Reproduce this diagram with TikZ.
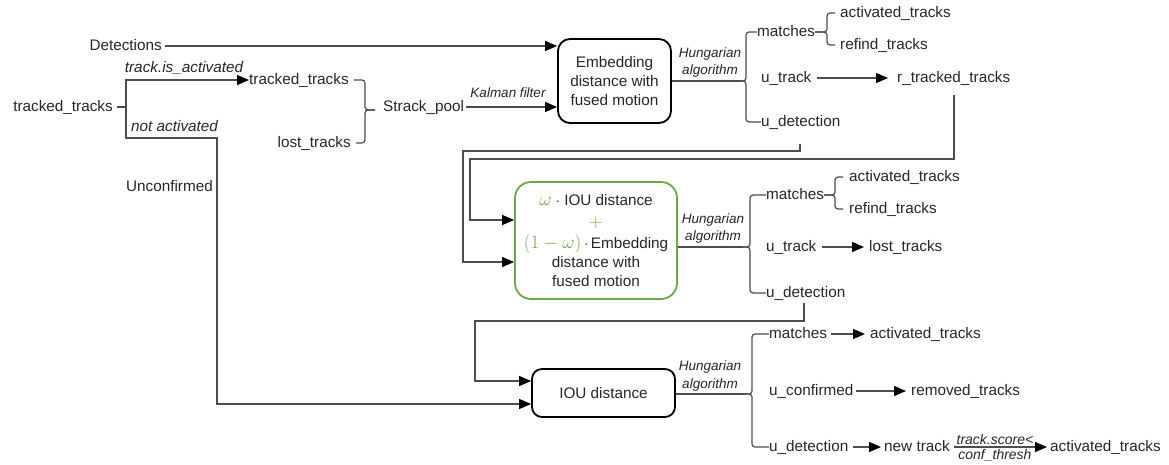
\RequirePackage{fix-cm}
\documentclass[tikz,border=0pt]{standalone}
\usepackage{fontspec}
\setmainfont{Liberation Sans}
\usetikzlibrary{arrows.meta,calc}
\definecolor{txt}{HTML}{262626}
\definecolor{ln}{HTML}{4D4D4D}
\definecolor{grn}{HTML}{6AAA44}
\begin{document}
\begin{tikzpicture}[x=1pt,y=-1pt,
  lbl/.style={inner sep=0pt, text=txt, font=\fontsize{15.3}{18}\selectfont, text height=11pt, text depth=3pt},
  ital/.style={lbl, font=\fontsize{15.3}{18}\selectfont\itshape},
  hung/.style={inner sep=0pt, text=txt, font=\fontsize{13.5}{17.5}\selectfont\itshape, align=center},
  frac/.style={inner sep=0pt, text=txt, font=\fontsize{14}{16}\selectfont\itshape},
  conn/.style={draw=ln, line width=1.2pt},
  arr/.style={conn, -{Triangle[length=12pt,width=10pt,color=black]}},
  brc/.style={draw=ln, line width=1.2pt, rounded corners=3pt},
  procbox/.style={draw=black, line width=1.8pt, rounded corners=12pt, text=txt,
    font=\fontsize{15.3}{19}\selectfont, align=center, inner sep=0pt},
  greenbox/.style={procbox, draw=grn, rounded corners=16pt},
]
\useasboundingbox (0,0) rectangle (1169,464);

% ---------- input side ----------
\node[lbl, anchor=east] (det) at (162,46) {Detections};
\node[lbl, anchor=east] (tt0) at (113,107) {tracked\_tracks};
\node[lbl, anchor=west] (tt1) at (249,80) {tracked\_tracks};
\node[lbl, anchor=east] (lost0) at (351,143) {lost\_tracks};
\node[lbl, anchor=west] (pool) at (383,107) {Strack\_pool};
\node[lbl, anchor=east] (unconf) at (213,187) {Unconfirmed};
\node[ital] (isact) at (184,68) {track.is\_activated};
\node[ital, anchor=west] (notact) at (131,127) {not activated};
\node[hung] (kal) at (508,93) {Kalman filter};

% ---------- boxes ----------
\node[procbox, minimum width=113pt, minimum height=84pt] (b1) at (614.5,81)
  {Embedding\\distance with\\fused motion};
\node[greenbox, minimum width=162pt, minimum height=117pt] (b2) at (596,240.5)
  {\textcolor{grn}{\fontsize{19}{19}\selectfont$\omega$} $\cdot$ IOU distance\\[3pt]
   \textcolor{grn}{\fontsize{19}{19}\selectfont$+$}\\[2pt]
   \textcolor{grn}{\fontsize{19}{19}\selectfont$(1-\omega)$}$\,\cdot\,$Embedding\\
   distance with\\fused motion};
\node[procbox, rounded corners=10pt, minimum width=143pt, minimum height=48pt] (b3) at (603.5,393)
  {IOU distance};

\node[hung] (h1) at (710,62.5) {Hungarian\\algorithm};
\node[hung] (h2) at (713,228.5) {Hungarian\\algorithm};
\node[hung] (h3) at (710,376) {Hungarian\\algorithm};

% ---------- stage 1 outputs ----------
\node[lbl, anchor=west] (m1) at (757,32) {matches};
\node[lbl, anchor=west] (act1) at (840,13) {activated\_tracks};
\node[lbl, anchor=west] (ref1) at (840,45) {refind\_tracks};
\node[lbl, anchor=west] (ut1) at (761,78) {u\_track};
\node[lbl, anchor=west] (rtt) at (897,78) {r\_tracked\_tracks};
\node[lbl, anchor=west] (ud1) at (761,122) {u\_detection};

% ---------- stage 2 outputs ----------
\node[lbl, anchor=west] (m2) at (766,195) {matches};
\node[lbl, anchor=west] (act2) at (849,177) {activated\_tracks};
\node[lbl, anchor=west] (ref2) at (849,209) {refind\_tracks};
\node[lbl, anchor=west] (ut2) at (766,247) {u\_track};
\node[lbl, anchor=west] (lost2) at (869,247) {lost\_tracks};
\node[lbl, anchor=west] (ud2) at (766,293) {u\_detection};

% ---------- stage 3 outputs ----------
\node[lbl, anchor=west] (m3) at (769,334) {matches};
\node[lbl, anchor=west] (act3) at (870,334) {activated\_tracks};
\node[lbl, anchor=west] (uc) at (769,391) {u\_confirmed};
\node[lbl, anchor=west] (rem) at (911,391) {removed\_tracks};
\node[lbl, anchor=west] (ud3) at (769,447) {u\_detection};
\node[lbl, anchor=west] (nt) at (884,447) {new track};
\node[lbl, anchor=west] (act4) at (1050,447) {activated\_tracks};

% ---------- helper coordinates ----------
\coordinate (split) at (126,107);
\coordinate (br0) at (375,110);
\coordinate (v0) at (365,0);
\coordinate (t1) at (741,81);
\coordinate (v1) at (746,0);
\coordinate (v1b) at (827,0);
\coordinate (t2) at (743,247);
\coordinate (v2) at (750,0);
\coordinate (v2b) at (835,0);
\coordinate (t3) at (745,394);
\coordinate (v3) at (752,0);

% ---------- input connectors ----------
\draw[arr, shorten <=3pt] (det.east) -- (det.east -| b1.west);
\draw[arr, shorten <=2pt] (pool.east) -- (pool.east -| b1.west);
\draw[conn, shorten <=4pt] (tt0.east) -- (split);
\draw[arr] (split) |- (tt1.west);
\draw[arr] (split) |- (217,138) |- ($(b3.west)+(0,11)$);
\draw[brc] ([xshift=5pt]tt1.east) -| (v0|-br0) -- (br0);
\draw[brc] ([xshift=5pt]lost0.east) -| (v0|-br0) -- (br0);

% ---------- stage 1 ----------
\draw[conn] (b1.east) -- (t1);
\draw[brc] (m1.west) -| (v1|-t1) -- (t1);
\draw[brc] (ud1.west) -| (v1|-t1) -- (t1);
\draw[brc] ([xshift=-5pt]act1.west) -| (v1b|-m1.east) -- (m1.east);
\draw[brc] ([xshift=-5pt]ref1.west) -| (v1b|-m1.east) -- (m1.east);
\draw[arr, shorten <=5pt, shorten >=9pt] (ut1.east) -- (ut1.east -| rtt.west);
\draw[arr] ($(ud1.south west)+(39,15)$) |- (463,151) |- ($(b2.west)+(0,21.5)$);
\draw[arr] ($(rtt.south west)+(57,10)$) |- (470,159) |- ($(b2.west)+(0,-20.5)$);

% ---------- stage 2 ----------
\draw[conn] (b2.east |- t2) -- (t2);
\draw[brc] (m2.west) -| (v2|-t2) -- (t2);
\draw[brc] (ud2.west) -| (v2|-t2) -- (t2);
\draw[brc] ([xshift=-6pt]act2.west) -| (v2b|-m2.east) -- (m2.east);
\draw[brc] ([xshift=-6pt]ref2.west) -| (v2b|-m2.east) -- (m2.east);
\draw[arr, shorten <=5pt, shorten >=5pt] (ut2.east) -- (lost2.west);
\draw[arr] ($(ud2.south west)+(38,3)$) |- (475,321) |- ($(b3.west)+(0,-12)$);

% ---------- stage 3 ----------
\draw[conn] (b3.east |- t3) -- (t3);
\draw[brc] (m3.west) -| (v3|-t3) -- (t3);
\draw[brc] (ud3.west) -| (v3|-t3) -- (t3);
\draw[arr, shorten <=4pt, shorten >=5pt] (m3.east) -- (act3.west);
\draw[arr, shorten <=2pt, shorten >=5pt] (uc.east) -- (rem.west);
\draw[arr, shorten <=4pt, shorten >=3pt] (ud3.east) -- (nt.west);
\draw[arr, shorten <=4pt, shorten >=3pt] (nt.east) -- (act4.west)
  node[pos=0.45, above=1.5pt, frac] (sc) {track.score<}
  node[pos=0.45, below=1.5pt, frac] (ct) {conf\_thresh};
\end{tikzpicture}
\end{document}
